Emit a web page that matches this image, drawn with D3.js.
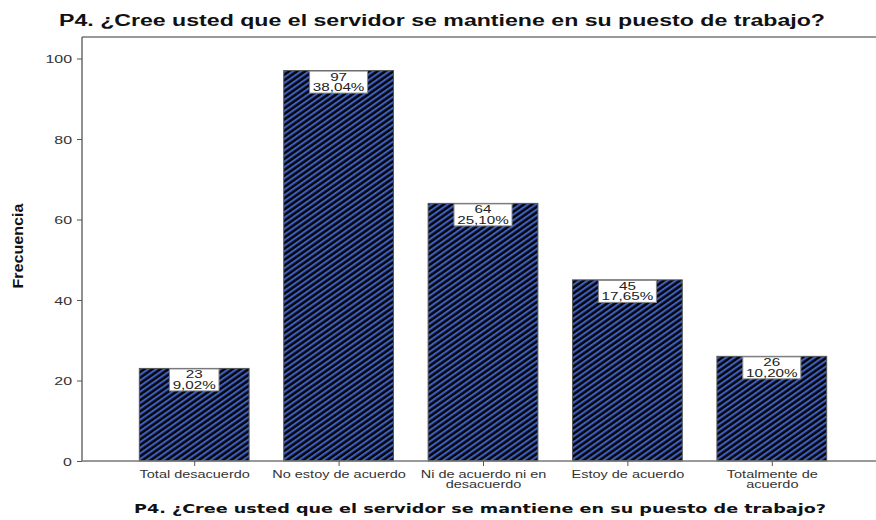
<!DOCTYPE html>
<html>
<head>
<meta charset="utf-8">
<script src="https://cdn.jsdelivr.net/npm/d3@7"></script>
<style>
  html, body { margin: 0; padding: 0; background: #fff; }
  svg { display: block; }
</style>
</head>
<body>
<svg id="chart" width="876" height="520"></svg>
<script>
const chartTitle = "P4. ¿Cree usted que el servidor se mantiene en su puesto de trabajo?";
const categories = ["Total desacuerdo", "No estoy de acuerdo", "Ni de acuerdo ni en desacuerdo", "Estoy de acuerdo", "Totalmente de acuerdo"];
const categoryLines = [["Total desacuerdo"], ["No estoy de acuerdo"], ["Ni de acuerdo ni en", "desacuerdo"], ["Estoy de acuerdo"], ["Totalmente de", "acuerdo"]];
const counts = [23, 97, 64, 45, 26];
const percents = ["9,02%", "38,04%", "25,10%", "17,65%", "10,20%"];
const yTicks = [0, 20, 40, 60, 80, 100];

const svg = d3.select("#chart");
const plotLeft = 82, plotRight = 876, plotTop = 37, plotBottom = 461;
const SX = 1.45;                 // horizontal widening of all text
const FONT = "Liberation Sans, Arial, sans-serif";

const x = d3.scalePoint().domain(categories).range([122, 844]).padding(0.5);
const barW = x.step() * 0.76;
const y = d3.scaleLinear().domain([0, 100]).range([plotBottom, 58.5]);

// hatch pattern for bars (slanted stripes, black and blue)
const defs = svg.append("defs");
const P = 4.6;
const pat = defs.append("pattern")
  .attr("id", "hatch")
  .attr("patternUnits", "userSpaceOnUse")
  .attr("width", P).attr("height", P)
  .attr("patternTransform", "rotate(-35)");
pat.append("rect").attr("width", P).attr("height", P).attr("fill", "#05050c");
pat.append("rect").attr("y", 0).attr("width", P).attr("height", 2.1).attr("fill", "#3e60bc");

// text helper: widened text placed at (tx, ty)
function wideText(parent, tx, ty, size, opts = {}) {
  return parent.append("text")
    .attr("transform", `translate(${tx},${ty}) scale(${SX},1)`)
    .attr("text-anchor", opts.anchor || "middle")
    .attr("font-family", opts.family || FONT)
    .attr("font-weight", opts.weight || "normal")
    .attr("font-size", size)
    .attr("fill", opts.fill || "#222");
}

// title
svg.append("text")
  .attr("x", 442).attr("y", 26)
  .attr("text-anchor", "middle")
  .attr("font-family", FONT)
  .attr("font-weight", "bold").attr("font-size", 16)
  .attr("fill", "#111")
  .attr("textLength", 766).attr("lengthAdjust", "spacingAndGlyphs")
  .text(chartTitle);

// frame top line
svg.append("line").attr("x1", plotLeft).attr("x2", plotRight).attr("y1", plotTop).attr("y2", plotTop)
  .attr("stroke", "#777").attr("stroke-width", 1.3);

// bars
svg.append("g").selectAll("rect").data(categories).join("rect")
  .attr("x", d => x(d) - barW / 2)
  .attr("y", (d, i) => y(counts[i]))
  .attr("width", barW)
  .attr("height", (d, i) => plotBottom - y(counts[i]))
  .attr("fill", "url(#hatch)")
  .attr("stroke", "#555").attr("stroke-width", 1);

// y axis
const yAxis = svg.append("g").attr("transform", `translate(${plotLeft},0)`)
  .call(d3.axisLeft(y).tickValues(yTicks).tickSize(5));
yAxis.select(".domain").attr("d", `M0,${plotTop}V${plotBottom}`).attr("stroke", "#555").attr("stroke-width", 1.3);
yAxis.selectAll(".tick line").attr("stroke", "#555");
yAxis.selectAll(".tick text").remove();
yAxis.selectAll(".tick").each(function (d) {
  wideText(d3.select(this), -10, 4, 11, { anchor: "end", fill: "#333" }).text(d);
});

// x axis
const xAxis = svg.append("g").attr("transform", `translate(0,${plotBottom})`)
  .call(d3.axisBottom(x).tickSize(5).tickFormat(""));
xAxis.select(".domain").attr("d", `M${plotLeft},0H${plotRight}`).attr("stroke", "#777").attr("stroke-width", 1.3);
xAxis.selectAll(".tick line").attr("stroke", "#555");
xAxis.selectAll(".tick").each(function (d, i) {
  const tick = d3.select(this);
  categoryLines[i].forEach((ln, j) => {
    wideText(tick, 0, 16.5 + j * 10.5, 10, { fill: "#333" }).text(ln);
  });
});

// value labels: white box with count and percent
const lab = svg.append("g").selectAll("g").data(categories).join("g")
  .attr("transform", (d, i) => `translate(${x(d)},${y(counts[i])})`);
lab.each(function (d, i) {
  const g = d3.select(this);
  const box = g.append("rect");
  const t1 = wideText(g, 0, 10, 10.5).text(counts[i]);
  const t2 = wideText(g, 0, 20.5, 10.5).text(percents[i]);
  const w = Math.max(t1.node().getBBox().width, t2.node().getBBox().width) * SX + 6;
  box.attr("x", -w / 2).attr("y", 0.5)
    .attr("width", w).attr("height", 22)
    .attr("fill", "#fff").attr("stroke", "#888").attr("stroke-width", 1);
});

// axis titles
svg.append("text")
  .attr("transform", "translate(23,246) rotate(-90)")
  .attr("text-anchor", "middle")
  .attr("font-family", "Liberation Sans Narrow, Arial Narrow, sans-serif")
  .attr("font-weight", "bold").attr("font-size", 15)
  .attr("textLength", 85).attr("lengthAdjust", "spacingAndGlyphs")
  .attr("fill", "#111")
  .text("Frecuencia");

svg.append("text")
  .attr("x", 480).attr("y", 513)
  .attr("text-anchor", "middle")
  .attr("font-family", "DejaVu Sans, Verdana, sans-serif")
  .attr("font-weight", "bold").attr("font-size", 13)
  .attr("textLength", 692).attr("lengthAdjust", "spacingAndGlyphs")
  .attr("fill", "#111")
  .text(chartTitle);
</script>
</body>
</html>
